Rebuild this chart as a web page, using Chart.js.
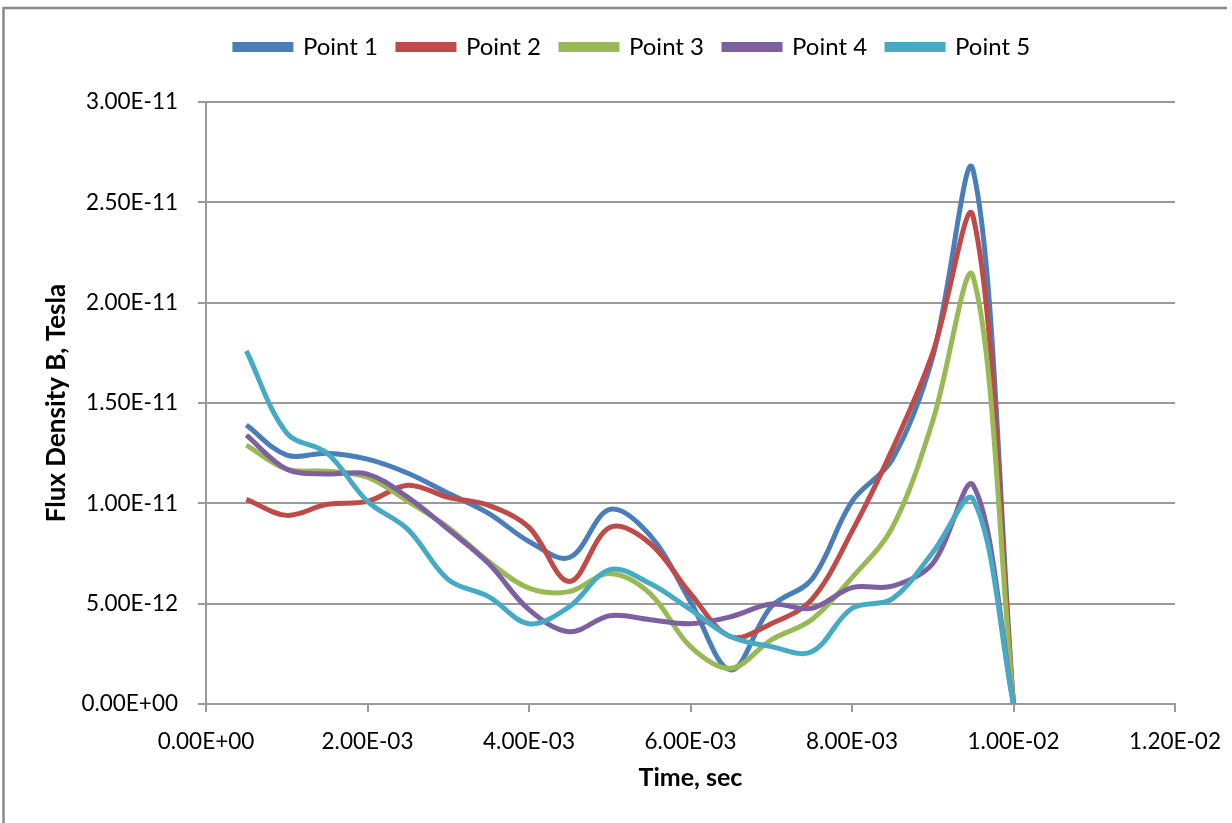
<!DOCTYPE html>
<html>
<head>
<meta charset="utf-8">
<script src="https://cdn.jsdelivr.net/npm/chart.js@4.4.1/dist/chart.umd.min.js"></script>
<style>
  html, body { margin: 0; padding: 0; background: #ffffff; }
  #wrap { position: absolute; left: 0; top: 0; width: 1232px; height: 823px; }
</style>
</head>
<body>
<div id="wrap"><canvas id="c" width="1232" height="823"></canvas></div>
<script>
// Time, sec
const times = [0.0005, 0.0010, 0.0015, 0.0020, 0.0025, 0.0030, 0.0035, 0.0040, 0.0045, 0.0050,
               0.0055, 0.0060, 0.0065, 0.0070, 0.0075, 0.0080, 0.0085, 0.0090, 0.0095, 0.0100];
// Flux density B, Tesla
const point1 = [13.9e-12, 12.4e-12, 12.5e-12, 12.2e-12, 11.5e-12, 10.5e-12, 9.5e-12, 8.1e-12, 7.3e-12, 9.7e-12,
                8.4e-12, 5.1e-12, 1.7e-12, 4.85e-12, 6.2e-12, 10.1e-12, 12.2e-12, 17.3e-12, 26.6e-12, 0];
const point2 = [10.2e-12, 9.4e-12, 9.95e-12, 10.1e-12, 10.9e-12, 10.3e-12, 9.9e-12, 8.8e-12, 6.1e-12, 8.8e-12,
                8.0e-12, 5.5e-12, 3.35e-12, 4.0e-12, 5.2e-12, 8.6e-12, 12.7e-12, 17.5e-12, 24.3e-12, 0];
const point3 = [12.9e-12, 11.7e-12, 11.6e-12, 11.3e-12, 10.1e-12, 8.8e-12, 7.1e-12, 5.77e-12, 5.6e-12, 6.5e-12,
                5.5e-12, 2.86e-12, 1.78e-12, 3.2e-12, 4.2e-12, 6.3e-12, 8.8e-12, 14.1e-12, 21.3e-12, 0];
const point4 = [13.4e-12, 11.7e-12, 11.46e-12, 11.46e-12, 10.3e-12, 8.7e-12, 7.0e-12, 4.7e-12, 3.6e-12, 4.4e-12,
                4.2e-12, 4.0e-12, 4.35e-12, 4.98e-12, 4.77e-12, 5.8e-12, 5.87e-12, 7.0e-12, 10.9e-12, 0];
const point5 = [17.6e-12, 13.5e-12, 12.5e-12, 10.1e-12, 8.7e-12, 6.2e-12, 5.35e-12, 4.0e-12, 4.85e-12, 6.7e-12,
                6.0e-12, 4.7e-12, 3.35e-12, 2.86e-12, 2.6e-12, 4.77e-12, 5.24e-12, 7.55e-12, 10.2e-12, 0];

const seriesNames = ['Point 1', 'Point 2', 'Point 3', 'Point 4', 'Point 5'];
const seriesValues = [point1, point2, point3, point4, point5];
const seriesColors = ['#4A7EBB', '#BE4B48', '#98B954', '#7D60A0', '#46AAC5'];

const xTickValues = [0, 0.002, 0.004, 0.006, 0.008, 0.010, 0.012];
const yTickValues = [0, 5e-12, 10e-12, 15e-12, 20e-12, 25e-12, 30e-12];

function sci(v) {
  if (Math.abs(v) < 1e-30) return '0.00E+00';
  let s = Number(v).toExponential(2);
  let [m, e] = s.split('e');
  let sign = e[0] === '-' ? '-' : '+';
  let d = e.replace(/[+-]/, '');
  if (d.length < 2) d = '0' + d;
  return m + 'E' + sign + d;
}

const FONT = 'Lato, "Open Sans", sans-serif';
const GRID = '#9a9a9a';

const datasets = seriesNames.map((name, i) => ({
  label: name,
  data: times.map((t, j) => ({x: t, y: seriesValues[i][j]})),
  borderColor: seriesColors[i],
  backgroundColor: seriesColors[i],
  borderWidth: 5,
  pointRadius: 0,
  pointHoverRadius: 0,
  tension: 0.35,
  fill: false,
  order: seriesNames.length - 1 - i
}));

const frame = {
  id: 'frame',
  afterLayout(chart) {
    const lg = chart.legend;
    if (lg) {
      const dx = 45, dy = -33;
      lg.left += dx; lg.right += dx;
      lg.top += dy; lg.bottom += dy;
    }
  },
  afterDraw(chart) {
    const ctx = chart.ctx;
    ctx.save();
    ctx.strokeStyle = '#8a8a8a';
    ctx.lineWidth = 2.5;
    ctx.beginPath();
    ctx.moveTo(3.5, 830);
    ctx.lineTo(3.5, 8);
    ctx.lineTo(1227, 8);
    ctx.stroke();
    ctx.restore();
  }
};

new Chart(document.getElementById('c'), {
  type: 'line',
  data: { datasets },
  plugins: [frame],
  options: {
    responsive: false,
    animation: false,
    events: [],
    layout: { padding: { left: 0, right: 57, top: 48, bottom: 0 } },
    plugins: {
      tooltip: { enabled: false },
      legend: {
        display: true,
        position: 'top',
        labels: {
          boxWidth: 56,
          boxHeight: 5,
          padding: 20,
          color: '#000',
          font: { family: FONT, size: 24 },
          sort: (a, b) => a.datasetIndex - b.datasetIndex
        }
      }
    },
    scales: {
      x: {
        type: 'linear',
        min: 0,
        max: 0.012,
        afterFit(s) { s.height = 119; s.paddingLeft = 0; s.paddingRight = 0; },
        afterBuildTicks(s) { s.ticks = xTickValues.map(v => ({value: v})); },
        ticks: {
          color: '#000',
          font: { family: FONT, size: 22.5 },
          padding: 16,
          maxRotation: 0,
          autoSkip: false,
          callback: v => sci(v)
        },
        grid: { drawOnChartArea: false, drawTicks: true, tickLength: 8, color: GRID, lineWidth: 2 },
        border: { display: true, color: GRID, width: 2 },
        title: {
          display: true,
          text: 'Time, sec',
          color: '#000',
          font: { family: FONT, size: 25, weight: 'bold' },
          padding: { top: 0, bottom: 30 }
        }
      },
      y: {
        type: 'linear',
        min: 0,
        max: 30e-12,
        afterFit(s) { s.width = 206; },
        afterBuildTicks(s) { s.ticks = yTickValues.map(v => ({value: v})); },
        ticks: {
          color: '#000',
          font: { family: FONT, size: 22.5 },
          padding: 20,
          autoSkip: false,
          callback: v => sci(v)
        },
        grid: { drawOnChartArea: true, drawTicks: true, tickLength: 8, color: GRID, lineWidth: 2 },
        border: { display: true, color: GRID, width: 2 },
        title: {
          display: true,
          text: 'Flux Density B, Tesla',
          color: '#000',
          font: { family: FONT, size: 26, weight: 'bold' },
          padding: { top: 41, bottom: 0 }
        }
      }
    }
  }
});
</script>
</body>
</html>
